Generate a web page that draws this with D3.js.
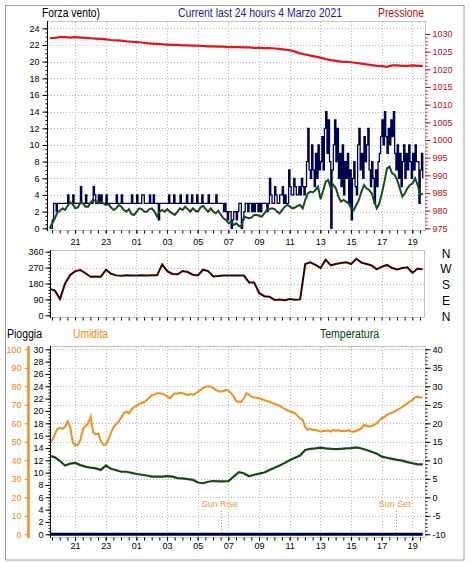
<!DOCTYPE html>
<html><head><meta charset="utf-8">
<script src="https://cdn.jsdelivr.net/npm/d3@7"></script>
<style>
body{margin:0;background:#fff;}
svg{display:block;font-family:"Liberation Sans",Arial,sans-serif;}
</style></head><body>
<svg id="c" width="470" height="562"></svg>
<script>
// ---------------- DATA ----------------
const startHour = 19.35;          // first sample (19:21)
const speedStep = 1/12;           // 5-minute samples
const fineStep = 1/6;             // 10-minute samples
const coarseStep = 1/3;           // 20-minute samples
const hourTicks  = [21,23,25,27,29,31,33,35,37,39,41,43];
const hourLabels = ["21","23","01","03","05","07","09","11","13","15","17","19"];
const windTicks = [0,2,4,6,8,10,12,14,16,18,20,22,24];
const pressureTicks = [975,980,985,990,995,1000,1005,1010,1015,1020,1025,1030];
const dirTicks = [0,90,180,270,360];
const dirLetterTicks = [360,270,180,90,0];
const dirLetters = ["N","W","S","E","N"];
const rainTicks = [0,2,4,6,8,10,12,14,16,18,20,22,24,26,28,30];
const humidityTicks = [0,10,20,30,40,50,60,70,80,90,100];
const tempTicks = [-10,-5,0,5,10,15,20,25,30,35,40];
const sunEvents = [{label:"Sun Rise", hour:30.5},{label:"Sun Set", hour:41.92}];
const rainHours = [19.35, 43.68];
const rain = [0, 0];

// wind speed (5 min)
const windSpeed = [
0,0,1,3,3,2,3,3,3,3, 3,3,3,3,4,3,3,3,4,3,
3,3,3,3,5,3,3,3,4,3, 3,3,3,3,5,4,3,3,4,3,
4,3,3,3,4,3,3,3,3,3, 3,3,4,3,3,3,4,3,3,3,
3,3,3,3,4,3,3,3,4,3, 3,3,4,4,3,3,3,3,4,3,
3,4,3,3,3,1,3,3,3,3, 3,3,3,4,3,3,3,4,3,3,
3,3,4,3,3,3,3,4,3,3, 3,4,3,3,3,4,3,3,3,4,
3,3,3,3,4,3,3,3,3,3, 4,3,3,3,3,3,2,3,2,1,
2,2,0,1,2,2,1,2,3,3, 0,1,2,3,3,2,3,3,2,3,
2,3,3,2,3,2,3,3,3,3, 2,3,6,4,3,3,5,4,3,3,
4,4,5,3,4,3,3,7,5,4, 4,6,5,4,4,5,4,6,5,4,
5,8,12,7,6,10,7,5,9,6, 10,7,8,11,7,12,14,9,13,8,
0,7,10,13,8,12,6,9,5,10, 4,8,6,9,3,7,1,6,8,5,
4,10,12,7,9,6,11,8,10,12, 7,5,8,6,3,7,5,8,9,11,
13,10,14,11,9,12,10,13,11,14, 9,7,10,6,9,5,8,10,6,9,
7,10,8,6,9,7,10,8,8,3, 7,9,6];
// average wind (10 min)
const windAvg = [
0,0.6,1.2,1.9,2.1,2.4,2.2,2.7,3.1,2.9,
2.4,2.5,3.1,3.0,2.6,2.6,3.1,3.4,3.3,3.0,
3.2,3.0,2.8,2.9,2.5,2.2,2.4,2.8,2.6,2.2,
2.0,2.3,1.7,1.6,2.0,2.4,2.3,2.0,2.0,2.3,
2.4,2.0,1.4,2.0,2.2,2.0,2.3,2.0,1.8,1.6,
2.0,2.4,2.2,2.6,2.3,2.0,2.4,2.1,2.0,2.5,
2.7,2.3,2.0,2.4,2.0,1.8,2.1,1.6,1.2,1.0,
0.6,0.8,0.4,0.6,0.3,0.2,1.4,1.3,1.2,1.3,
1.6,1.6,1.5,1.4,1.8,2.2,2.3,2.4,2.3,2.0,
1.8,2.2,2.6,2.8,2.6,2.4,2.5,2.7,2.8,2.4,
3.4,4.2,4.4,4.3,4.6,5.0,3.5,4.5,5.6,5.8,
4.8,5.2,4.8,3.8,3.2,3.4,3.2,3.0,2.4,2.2,
2.8,3.4,4.4,5.2,4.8,4.6,4.2,3.2,2.4,3.0,
4.2,5.6,7.2,7.4,6.6,6.4,5.8,4.8,3.8,4.2,
4.8,5.2,5.4,6.0,5.2,4.0,4.2];
// humidity % (10 min)
const humidity = [
50,51,54,57,57.5,57,58,61,58,50,
48,48.5,51,57,58.5,60,63.5,55,54,54.5,
50.5,48.3,48.5,51.5,55,58,59.5,61,63.3,65.5,
66.3,65.4,67.5,68.8,69.5,70.5,71,71.5,72.6,74,
75.3,75.5,76.2,76.2,76,75.5,74.5,73.5,75,76.2,
76,76.5,76.2,75.8,75.3,75.8,75.3,76,77,78,
79,79.8,80,79.8,79,78,77.5,77.1,77.5,78,
77.5,76.2,74.5,72,71.7,71.7,73.5,76.2,75.5,74.4,
74,73.8,73.5,73,72.5,72,71.7,71,70.5,70,
69.5,68.5,67.8,67,66.5,66,65.4,64,62.7,61.8,
58,56.4,57,56.4,56.4,56,55.5,56,55.8,56.2,
55.5,56.4,56,56.2,55.8,56,55.9,56.3,55.6,55.5,
56,56.5,57.5,59,58.8,58.2,58.5,59.2,60,61.5,
62.7,63.5,64.5,65.2,65.8,66.5,67.2,68,68.8,69.8,
70.8,71.8,72.6,74,74.4,74,74];
// pressure hPa (20 min)
const pressure = [
1028.8,1028.9,1029.1,1029.1,1029.0,1029.1,1029.0,1028.9,1028.8,1028.7,
1028.6,1028.5,1028.3,1028.2,1028.1,1027.9,1027.8,1027.7,1027.6,1027.4,
1027.3,1027.2,1027.1,1027.0,1026.9,1026.9,1026.8,1026.8,1026.7,1026.7,
1026.6,1026.5,1026.5,1026.4,1026.4,1026.3,1026.3,1026.3,1026.2,1026.2,
1026.1,1026.1,1026.0,1026.0,1025.9,1025.8,1025.6,1025.4,1025.0,1024.5,
1024.2,1023.9,1023.6,1023.3,1022.9,1022.6,1022.4,1022.2,1022.1,1022.0,
1021.8,1021.6,1021.4,1021.2,1021.0,1020.9,1020.7,1021.1,1021.1,1021.0,
1021.0,1021.1,1021.0,1021.0];
// wind direction deg (20 min)
const windDir = [
150,140,92,180,228,250,256,238,218,220,
218,258,235,226,224,226,225,225,226,225,
226,226,288,250,234,232,250,245,230,226,
258,250,220,222,225,225,225,225,225,186,
186,125,108,105,87,90,85,92,88,90,
290,300,285,268,315,283,290,296,300,290,
320,298,290,282,260,275,285,268,260,268,
272,240,265,260];
// temperature °C (20 min)
const temperature = [
11.2,10.8,9.8,8.6,9.1,9.3,8.7,8.3,8.0,7.8,
7.4,8.6,7.7,7.3,6.9,6.9,6.6,6.3,6.1,5.9,
5.6,5.6,5.6,5.7,5.6,5.2,5.1,4.9,4.7,4.0,
3.8,4.2,4.4,4.3,4.3,4.4,5.6,6.8,6.5,5.7,
6.1,6.4,6.7,7.4,8.0,8.6,9.3,10.1,10.7,11.3,
12.8,13.1,13.2,13.4,13.2,13.1,13.0,13.1,13.2,13.3,
13.5,13.2,12.8,12.3,11.8,11.0,10.7,10.4,10.1,9.9,
9.5,9.2,8.9,8.9];

// ---------------- DRAWING ----------------
const svg = d3.select("#c");
const FONT = '"Liberation Sans",Arial,sans-serif';
const C = {
  frame:"#c4c4c4", grid:"#b8b8b8", outer:"#a0a0a0",
  press:"#e3141c", wind:"#000050", avg:"#1c4a1c", dir:"#3a0000",
  hum:"#f48c1e", temp:"#184818", rain:"#000044", title:"#1a1ab4",
  pressTxt:"#c0101a", humTxt:"#f0880e", tempTxt:"#0c3a0c", sun:"#f09a3a", sunLine:"#c8804a"
};
const speedT = (i) => startHour + i*speedStep;
const fine = (i) => startHour + i*fineStep;
const coarse = (i) => startHour + i*coarseStep;

const x = d3.scaleLinear().domain([19.17, 43.83]).range([47, 425]);

const F1 = {l:47, r:425, t:21, b:230};
const F2 = {l:50, r:424, t:250, b:317};
const F3 = {l:50, r:425, t:346, b:537};

const yWind = d3.scaleLinear().domain([0,24]).range([228.3, 28.3]);
const yPress = d3.scaleLinear().domain([975,1030]).range([228.3, 34]);
const yDir = d3.scaleLinear().domain([0,360]).range([315.3, 251.7]);
const yRain = d3.scaleLinear().domain([0,30]).range([534.3, 349.3]);
const yHum = d3.scaleLinear().domain([0,100]).range([534.3, 349.3]);
const yTemp = d3.scaleLinear().domain([-10,40]).range([534.3, 349.3]);

// outer frame
svg.append("rect").attr("x",5.5).attr("y",5.5).attr("width",458.5).attr("height",554.5)
  .attr("fill","none").attr("stroke",C.outer);

let clipId = 0;
function panel(f, yScale, yVals){
  svg.append("rect").attr("x",f.l+0.5).attr("y",f.t+0.5).attr("width",f.r-f.l).attr("height",f.b-f.t)
    .attr("fill","#fff").attr("stroke",C.frame);
  const g = svg.append("g").attr("stroke",C.grid).attr("stroke-dasharray","1,2").attr("stroke-width",1);
  g.selectAll("line.v").data(hourTicks).join("line").attr("class","v")
    .attr("x1",d=>Math.round(x(d))+0.5).attr("x2",d=>Math.round(x(d))+0.5)
    .attr("y1",f.t+1).attr("y2",f.b);
  g.selectAll("line.h").data(yVals.filter(v=>yScale(v)>f.t+2 && yScale(v)<f.b-2)).join("line").attr("class","h")
    .attr("x1",f.l+1).attr("x2",f.r).attr("y1",d=>Math.round(yScale(d))+0.5).attr("y2",d=>Math.round(yScale(d))+0.5);
  const id = "clip"+(clipId++);
  svg.append("clipPath").attr("id",id).append("rect").attr("x",f.l+1).attr("y",f.t+1).attr("width",f.r-f.l-1).attr("height",f.b-f.t-1);
  return svg.append("g").attr("clip-path",`url(#${id})`);
}

function styleAxis(g, color, size){
  g.attr("font-family",FONT).attr("font-size",size||9);
  g.select(".domain").remove();
  g.selectAll("line").attr("stroke",color);
  g.selectAll("text").attr("fill",color);
}

function vAxis(side, xPos, scale, major, minor, color, f, opts){
  opts = opts || {};
  const mk = side==="left" ? d3.axisLeft : d3.axisRight;
  if(minor){
    const gm = svg.append("g").attr("transform",`translate(${xPos+0.5},0)`)
      .call(mk(scale).tickValues(minor).tickSize(opts.minorSize||2).tickSizeOuter(0).tickFormat(""));
    styleAxis(gm, color);
  }
  const g = svg.append("g").attr("transform",`translate(${xPos+0.5},0)`)
    .call(mk(scale).tickValues(major).tickSize(opts.size||5).tickPadding(opts.pad||2).tickSizeOuter(0)
      .tickFormat(opts.fmt || (d=>d)));
  styleAxis(g, color, opts.font);
  if(opts.line){
    svg.append("line").attr("x1",xPos+0.5).attr("x2",xPos+0.5).attr("y1",f.t).attr("y2",f.b+1)
      .attr("stroke",opts.lineColor||color).attr("stroke-width",opts.lineWidth||1);
  }
}

function xAxis(yPos, labels, pad){
  const minor = d3.range(19.5, 43.8, 0.5);
  const gm = svg.append("g").attr("transform",`translate(0,${yPos+0.5})`)
    .call(d3.axisBottom(x).tickValues(minor).tickSize(3).tickSizeOuter(0).tickFormat(""));
  styleAxis(gm, "#000");
  if(labels){
    const g = svg.append("g").attr("transform",`translate(0,${yPos+0.5})`)
      .call(d3.axisBottom(x).tickValues(hourTicks).tickSize(3).tickPadding(pad).tickSizeOuter(0)
        .tickFormat((d,i)=>hourLabels[i]));
    styleAxis(g, "#000");
  }
}

// ---- top panel: wind speed + pressure ----
const p1 = panel(F1, yWind, windTicks);
const lineP = d3.line().x((d,i)=>x(coarse(i))).y(d=>yPress(d));
p1.append("path").datum(pressure).attr("d",lineP).attr("fill","none").attr("stroke",C.press).attr("stroke-width",2.2);
const lineW = d3.line().x((d,i)=>x(speedT(i))).y(d=>yWind(d)).curve(d3.curveStepAfter);
p1.append("path").datum(windSpeed).attr("d",lineW).attr("fill","none").attr("stroke",C.wind).attr("stroke-width",1.3);
const lineA = d3.line().x((d,i)=>x(fine(i))).y(d=>yWind(d));
p1.append("path").datum(windAvg).attr("d",lineA).attr("fill","none").attr("stroke",C.avg).attr("stroke-width",2);

vAxis("left", F1.l, yWind, windTicks, d3.range(0,24.01,0.5), "#000", F1, {line:true, pad:3});
vAxis("right", F1.r, yPress, pressureTicks, d3.range(975,1030.01,1), C.pressTxt, F1, {pad:2});
xAxis(F1.b, true, 5);

// ---- middle panel: wind direction ----
const p2 = panel(F2, yDir, dirTicks);
const lineD = d3.line().x((d,i)=>x(coarse(i))).y(d=>yDir(d));
p2.append("path").datum(windDir).attr("d",lineD).attr("fill","none").attr("stroke",C.dir).attr("stroke-width",2);
vAxis("left", F2.l, yDir, dirTicks, d3.range(0,360.1,18), "#000", F2, {line:true, pad:2});
xAxis(F2.b, false, 0);
svg.append("g").selectAll("text").data(dirLetterTicks).join("text")
  .attr("x",446).attr("y",d=>yDir(d)+1.5).attr("dy","0.36em").attr("text-anchor","middle")
  .attr("font-family",FONT).attr("font-size",12).attr("fill","#000")
  .text((d,i)=>dirLetters[i]);

// ---- bottom panel: rain, humidity, temperature ----
const p3 = panel(F3, yHum, humidityTicks);
const lineH = d3.line().x((d,i)=>x(fine(i))).y(d=>yHum(d));
p3.append("path").datum(humidity).attr("d",lineH).attr("fill","none").attr("stroke",C.hum).attr("stroke-width",2);
const lineT = d3.line().x((d,i)=>x(coarse(i))).y(d=>yTemp(d));
p3.append("path").datum(temperature).attr("d",lineT).attr("fill","none").attr("stroke",C.temp).attr("stroke-width",2.2);
const lineR = d3.line().x((d,i)=>x(rainHours[i])).y(d=>yRain(d));
p3.append("path").datum(rain).attr("d",lineR).attr("fill","none").attr("stroke",C.rain).attr("stroke-width",3);

// sun events
const sg = svg.append("g");
sg.selectAll("line").data(sunEvents).join("line")
  .attr("x1",d=>Math.round(x(d.hour))+0.5).attr("x2",d=>Math.round(x(d.hour))+0.5)
  .attr("y1",511).attr("y2",533).attr("stroke",C.sunLine).attr("stroke-dasharray","1,2");
sg.selectAll("text").data(sunEvents).join("text")
  .attr("x",d=>x(d.hour)-1).attr("y",507).attr("text-anchor","middle")
  .attr("font-family",FONT).attr("font-size",9).attr("fill",C.sun).text(d=>d.label);

vAxis("left", F3.l, yRain, rainTicks, d3.range(0,30.01,0.5), "#000", F3, {line:true, pad:2});
vAxis("right", F3.r, yTemp, tempTicks, d3.range(-10,40.01,1), "#000", F3, {pad:2});
vAxis("left", 28, yHum, humidityTicks, null, C.humTxt, F3, {line:true, lineWidth:2.5, lineColor:C.hum, size:4, pad:3});
xAxis(F3.b, true, 2.5);

// ---- titles ----
function label(txt, xPos, yPos, color, len, size){
  svg.append("text").attr("x",xPos).attr("y",yPos).attr("font-family",FONT).attr("font-size",size||12)
    .attr("fill",color).attr("textLength",len).attr("lengthAdjust","spacingAndGlyphs").text(txt);
}
label("Forza vento)", 42, 16.7, "#000", 58);
label("Current last 24 hours 4 Marzo 2021", 178, 16.7, C.title, 164);
label("Pressione", 378, 16.7, C.pressTxt, 46);
label("Pioggia", 7, 337.5, "#000", 35);
label("Umidita", 73, 337.5, C.humTxt, 35);
label("Temperatura", 320, 337.5, C.tempTxt, 59);
</script>
</body></html>
